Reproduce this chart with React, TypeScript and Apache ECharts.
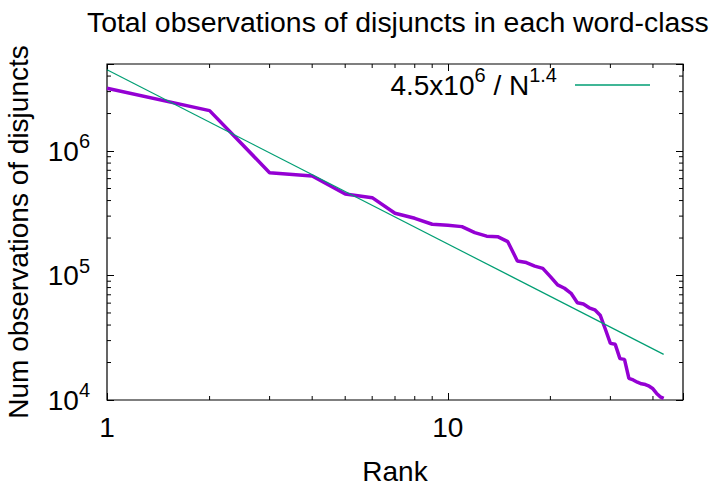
import React, { useEffect, useRef } from "react";
import * as echarts from "echarts";

const titleText = "Total observations of disjuncts in each word-class";
const xAxisName = "Rank";
const yAxisName = "Num observations of disjuncts";
const fitName = "4.5x10^6 / N^1.4";

const ranks = [
  1, 2, 3, 4, 5, 6, 7, 8, 9, 10, 11, 12, 13, 14, 15, 16, 17, 18, 19, 20, 21, 22,
  23, 24, 25, 26, 27, 28, 29, 30, 31, 32, 33, 34, 35, 36, 37, 38, 39, 40, 41, 42, 43,
];
const observations = [
  3190000, 2110000, 670000, 630000, 452000, 422000, 316000, 288000, 258000, 253000,
  247000, 221000, 207000, 205000, 187000, 131000, 127000, 119000, 114000, 98000,
  84000, 79000, 72000, 60500, 59000, 55000, 53000, 48000, 37000, 28500, 28000,
  21500, 21200, 14900, 14500, 13900, 13500, 13300, 12900, 12300, 11300, 10600, 10300,
];
// endpoints of the fitted power law 4.5e6 / N^1.4
const fitRanks = [1, 43];
const fitValues = [4500000, 23250];

const xMin = 1;
const xMax = 49;
const yMin = 10000;
const yMax = 5000000;

const xMinorTicks = [2, 3, 4, 5, 6, 7, 8, 9, 20, 30, 40];
const yMinorTicks = [
  20000, 30000, 40000, 50000, 60000, 70000, 80000, 90000,
  200000, 300000, 400000, 500000, 600000, 700000, 800000, 900000,
  2000000, 3000000, 4000000,
];

const FONT = "Liberation Sans, Arial, Helvetica, sans-serif";
const FS = 28;

function isPow10(v: number) {
  const e = Math.round(Math.log10(v));
  return Math.abs(Math.pow(10, e) - v) < 1e-6 * v;
}

export default function App() {
  const ref = useRef<HTMLDivElement>(null);
  useEffect(() => {
    if (!ref.current) return;
    const chart = echarts.init(ref.current, null, { renderer: "svg" });

    const richBase = {
      b: { fontSize: FS, fontFamily: FONT, color: "#000", lineHeight: 40, verticalAlign: "middle" },
      s: { fontSize: 20, fontFamily: FONT, color: "#000", lineHeight: 20, verticalAlign: "top" },
      g: { width: 13, lineHeight: 40 },
    };

    const tickStyle = { color: "#000", width: 1 };

    const minorX = (params: any, api: any) => {
      const cs = params.coordSys;
      const px = api.coord([api.value(0), yMin])[0];
      const st = { stroke: "#000", lineWidth: 1 };
      return {
        type: "group",
        children: [
          { type: "line", shape: { x1: px, y1: cs.y + cs.height, x2: px, y2: cs.y + cs.height - 4 }, style: st },
          { type: "line", shape: { x1: px, y1: cs.y, x2: px, y2: cs.y + 4 }, style: st },
        ],
      };
    };
    const minorY = (params: any, api: any) => {
      const cs = params.coordSys;
      const py = api.coord([xMin, api.value(1)])[1];
      const st = { stroke: "#000", lineWidth: 1 };
      return {
        type: "group",
        children: [
          { type: "line", shape: { x1: cs.x, y1: py, x2: cs.x + 4, y2: py }, style: st },
          { type: "line", shape: { x1: cs.x + cs.width, y1: py, x2: cs.x + cs.width - 4, y2: py }, style: st },
        ],
      };
    };

    const commonX = {
      type: "log",
      logBase: 10,
      min: xMin,
      max: xMax,
      axisLine: { show: false },
      splitLine: { show: false },
      axisTick: { show: true, inside: true, length: 7, lineStyle: tickStyle },
    };
    const commonY = {
      type: "log",
      logBase: 10,
      min: yMin,
      max: yMax,
      axisLine: { show: false },
      splitLine: { show: false },
      axisTick: { show: true, inside: true, length: 7, lineStyle: tickStyle },
    };

    chart.setOption({
      animation: false,
      backgroundColor: "#fff",
      title: {
        text: titleText,
        left: 82,
        top: 3,
        textStyle: { fontFamily: FONT, fontSize: 28.4, fontWeight: "normal", color: "#000" },
      },
      grid: {
        left: 107,
        right: 31,
        top: 64,
        bottom: 86,
        outerBoundsMode: "none",
        containLabel: false,
        show: true,
        borderColor: "#000",
        borderWidth: 1.2,
        backgroundColor: "transparent",
      },
      legend: {
        data: [{ name: fitName, icon: "rect" }],
        right: 64,
        top: 65,
        padding: 0,
        align: "right",
        itemWidth: 75,
        itemHeight: 1.4,
        formatter: () => "{b|4.5x10}{s|6}{b| / N}{s|1.4}{g| }",
        textStyle: { fontFamily: FONT, fontSize: FS, color: "#000", rich: richBase },
      },
      xAxis: [
        {
          ...commonX,
          position: "bottom",
          name: xAxisName,
          nameLocation: "middle",
          nameGap: 57,
          nameTextStyle: { fontFamily: FONT, fontSize: FS, color: "#000" },
          axisLabel: {
            fontFamily: FONT,
            fontSize: FS,
            color: "#000",
            margin: 13,
            formatter: (v: number) => (isPow10(v) ? String(Math.round(v)) : ""),
          },
        },
        { ...commonX, position: "top", axisLabel: { show: false } },
      ],
      yAxis: [
        {
          ...commonY,
          position: "left",
          name: yAxisName,
          nameLocation: "middle",
          nameGap: 75,
          nameTextStyle: { fontFamily: FONT, fontSize: FS, color: "#000" },
          axisLabel: {
            margin: 17,
            formatter: (v: number) => (isPow10(v) ? `{b|10}{s|${Math.round(Math.log10(v))}}` : ""),
            rich: richBase,
          },
        },
        { ...commonY, position: "right", axisLabel: { show: false } },
      ],
      series: [
        {
          name: "observations",
          type: "line",
          xAxisIndex: 0,
          yAxisIndex: 0,
          data: ranks.map((r, i) => [r, observations[i]]),
          showSymbol: false,
          symbol: "none",
          lineStyle: { color: "#9400D3", width: 3.5 },
          itemStyle: { color: "#9400D3" },
          z: 3,
        },
        {
          name: fitName,
          type: "line",
          xAxisIndex: 0,
          yAxisIndex: 0,
          data: fitRanks.map((r, i) => [r, fitValues[i]]),
          showSymbol: false,
          symbol: "none",
          lineStyle: { color: "#009E73", width: 1.2 },
          itemStyle: { color: "#009E73" },
          z: 4,
        },
        {
          type: "custom",
          silent: true,
          xAxisIndex: 0,
          yAxisIndex: 0,
          renderItem: minorX,
          data: xMinorTicks.map((v) => [v, yMin]),
          clip: false,
        },
        {
          type: "custom",
          silent: true,
          xAxisIndex: 0,
          yAxisIndex: 0,
          renderItem: minorY,
          data: yMinorTicks.map((v) => [xMin, v]),
          clip: false,
        },
      ],
    });
    return () => chart.dispose();
  }, []);
  return <div ref={ref} style={{ width: 714, height: 486, position: "absolute", left: 0, top: 0 }} />;
}
